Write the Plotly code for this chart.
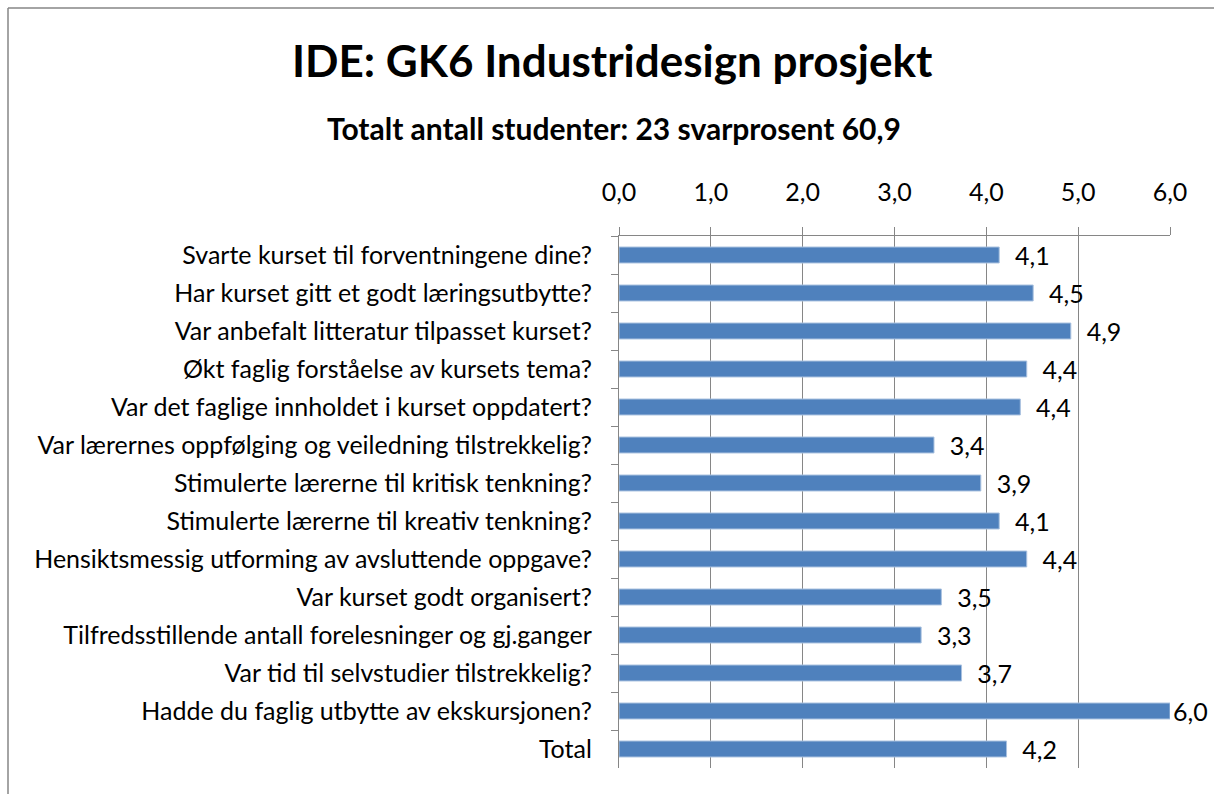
import plotly.graph_objects as go

categories = [
    "Svarte kurset til forventningene dine?",
    "Har kurset gitt et godt læringsutbytte?",
    "Var anbefalt litteratur tilpasset kurset?",
    "Økt faglig forståelse av kursets tema?",
    "Var det faglige innholdet i kurset oppdatert?",
    "Var lærernes oppfølging og veiledning tilstrekkelig?",
    "Stimulerte lærerne til kritisk tenkning?",
    "Stimulerte lærerne til kreativ tenkning?",
    "Hensiktsmessig utforming av avsluttende oppgave?",
    "Var kurset godt organisert?",
    "Tilfredsstillende antall forelesninger og gj.ganger",
    "Var tid til selvstudier tilstrekkelig?",
    "Hadde du faglig utbytte av ekskursjonen?",
    "Total",
]
values = [4.14, 4.51, 4.92, 4.44, 4.37, 3.43, 3.94, 4.14, 4.44, 3.51, 3.29, 3.73, 6.0, 4.22]
x_ticks = [0, 1, 2, 3, 4, 5, 6]
title_text = "IDE: GK6 Industridesign prosjekt"
subtitle_text = "Totalt antall studenter: 23 svarprosent 60,9"

W, H = 1214, 794
L, R, T, B = 619, 1170, 236, 768
X_MAX = 6

FONT = "Lato"

# labels sit a little away from the bar end, except at the axis maximum
templates = ["%{x:.1f}" if v >= X_MAX else "  %{x:.1f}" for v in values]

fig = go.Figure(go.Bar(
    y=categories, x=values, orientation="h",
    marker=dict(color="#4F81BD", line=dict(color="#A9C1DF", width=1)),
    width=0.42,
    texttemplate=templates, textposition="outside", cliponaxis=False,
    constraintext="none",
    textfont=dict(family=FONT, size=25, color="#000000"),
    hoverinfo="skip",
))

def px2x(px):
    return (px - L) / (R - L)

def py2y(py):
    return (B - py) / (B - T)

fig.update_layout(
    width=W, height=H,
    margin=dict(l=L, r=W - R, t=T, b=H - B, pad=0),
    paper_bgcolor="white", plot_bgcolor="white",
    separators=",.",
    showlegend=False,
    font=dict(family=FONT, size=25, color="#000000"),
    xaxis=dict(
        side="top", range=[0, X_MAX], tickvals=x_ticks, tickformat=".1f",
        showgrid=True, gridcolor="#868686", gridwidth=1.3,
        showline=True, linecolor="#868686", linewidth=1.3,
        ticks="outside", ticklen=8, tickcolor="#868686", tickwidth=1.3,
        ticklabelstandoff=16,
        tickfont=dict(family=FONT, size=25),
        zeroline=False, fixedrange=True,
    ),
    yaxis=dict(
        autorange="reversed", showgrid=False,
        showline=True, linecolor="#868686", linewidth=1.3,
        ticks="outside", ticklen=7, tickcolor="#868686", tickwidth=1.3,
        tickson="boundaries", ticklabelstandoff=21,
        tickfont=dict(family=FONT, size=25),
        fixedrange=True,
    ),
    annotations=[
        dict(text="<b>" + title_text + "</b>", xref="paper", yref="paper",
             x=px2x(612), y=py2y(60), xanchor="center", yanchor="middle",
             showarrow=False, font=dict(family=FONT, size=44, color="#000000")),
        dict(text="<b>" + subtitle_text + "</b>", xref="paper", yref="paper",
             x=px2x(614), y=py2y(128), xanchor="center", yanchor="middle",
             showarrow=False, font=dict(family=FONT, size=30, color="#000000")),
    ],
    shapes=[
        dict(type="line", xref="paper", yref="paper",
             x0=px2x(8), x1=px2x(W), y0=py2y(8), y1=py2y(8),
             line=dict(color="#868686", width=1.5)),
        dict(type="line", xref="paper", yref="paper",
             x0=px2x(8), x1=px2x(8), y0=py2y(8), y1=py2y(H),
             line=dict(color="#868686", width=1.5)),
    ],
)

fig.write_html(
    "out.html",
    config={"displayModeBar": False},
    post_script="document.body.style.margin='0';document.body.style.overflow='hidden';",
)
